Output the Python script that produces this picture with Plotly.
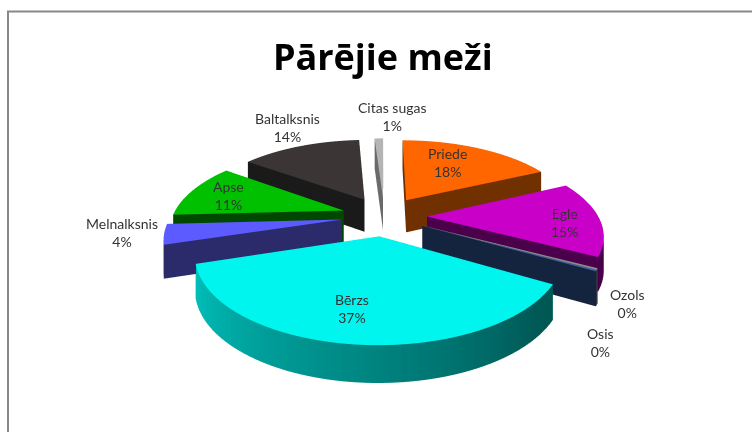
import numpy as np
import plotly.graph_objects as go

categories = ["Priede", "Egle", "Ozols", "Osis", "Bērzs", "Melnalksnis", "Apse", "Baltalksnis", "Citas sugas"]
values = [18, 15, 0.3, 0.2, 37, 4, 11, 14, 1]
pct_labels = ["18%", "15%", "0%", "0%", "37%", "4%", "11%", "14%", "1%"]
top_colors = ["#FF6600", "#C800C8", "#8C8C8C", "#3A62B0", "#00F5EE", "#5B5BFF", "#00C000", "#3B3535", "#B4B4B4"]
cut_colors = ["#703000", "#4A004A", "#555555", "#14243F", "#006058", "#2B2B6B", "#004800", "#1A1A1A", "#6A6A6A"]
label_radius = [0.72, 0.8, 1.30, 1.25, 0.45, 1.42, 0.72, 1.13, 1.25]
label_xshift = [-13, 0, -30, -45, -17, 37, -5, -6, 14]
label_yshift = [-1, -5, -19, -59, -30, 8, 0, 13, 10]

RADIUS = 1.0
DEPTH = 0.215
PULL = 0.25
WARP = 0.20
ELEVATION = np.radians(27)
EYE_DIST = 3.0
SCALE = 2.85


def warp(x, y, z):
    f = 1 + WARP * y
    return x / f, y / f, z / np.sqrt(f)


def rgb(hex_color):
    return np.array([int(hex_color[i:i + 2], 16) for i in (1, 3, 5)], dtype=float)


def to_css(c):
    return "rgb(%d,%d,%d)" % tuple(np.clip(c, 0, 255))


def wedge(start, stop, top, cut):
    mid = (start + stop) / 2
    ox, oy = PULL * np.sin(mid), PULL * np.cos(mid)
    steps = max(2, int((stop - start) / np.radians(1.5)))
    th = np.linspace(start, stop, steps + 1)
    px, py = ox + RADIUS * np.sin(th), oy + RADIUS * np.cos(th)
    x, y, z, i, j, k, fc = [], [], [], [], [], [], []

    def tri(a, b, c, color):
        n = len(x)
        for p in (a, b, c):
            wx, wy, wz = warp(*p)
            x.append(wx); y.append(wy); z.append(wz)
        i.append(n); j.append(n + 1); k.append(n + 2); fc.append(color)

    base = rgb(top)
    for s in range(steps):
        a, b = (px[s], py[s]), (px[s + 1], py[s + 1])
        tri((ox, oy, 0), (*a, 0), (*b, 0), top)
        tri((ox, oy, -DEPTH), (*a, -DEPTH), (*b, -DEPTH), cut)
        ang = np.degrees((th[s] + th[s + 1]) / 2)
        # shade of the rim: bright towards the left, dark towards lower right
        t = np.clip((ang - 130) / 130, 0, 1)
        col = to_css(base * (0.36 + 0.46 * t))
        tri((*a, 0), (*b, 0), (*b, -DEPTH), col)
        tri((*a, 0), (*b, -DEPTH), (*a, -DEPTH), col)
    for p in [(px[0], py[0]), (px[-1], py[-1])]:
        tri((ox, oy, 0), (*p, 0), (*p, -DEPTH), cut)
        tri((ox, oy, 0), (*p, -DEPTH), (ox, oy, -DEPTH), cut)
    return go.Mesh3d(x=x, y=y, z=z, i=i, j=j, k=k, facecolor=fc, flatshading=True,
                     lighting=dict(ambient=1, diffuse=0, specular=0, fresnel=0, roughness=1),
                     hoverinfo="skip", showscale=False)


shares = np.array(values, dtype=float) / sum(values) * 2 * np.pi
edges = np.concatenate([[0], np.cumsum(shares)])
fig = go.Figure()
annotations = []
for n, name in enumerate(categories):
    fig.add_trace(wedge(edges[n], edges[n + 1], top_colors[n], cut_colors[n]))
    mid = (edges[n] + edges[n + 1]) / 2
    ax, ay, az = warp((PULL + label_radius[n]) * np.sin(mid), (PULL + label_radius[n]) * np.cos(mid), 0)
    annotations.append(dict(
        x=ax, y=ay, z=az, xshift=label_xshift[n], yshift=label_yshift[n],
        text=f"{name}<br>{pct_labels[n]}", showarrow=False,
        font=dict(family="Lato", size=14, color="#333333")))

hidden = dict(visible=False, showgrid=False, zeroline=False, showticklabels=False)
fig.update_layout(
    width=752, height=432, margin=dict(l=0, r=0, t=0, b=0),
    paper_bgcolor="white", showlegend=False,
    title=dict(text="<b>Pārējie meži</b>", x=0.509, y=0.866, xanchor="center", yanchor="middle",
               font=dict(family="Open Sans", size=36, color="black")),
    scene=dict(
        domain=dict(x=[0, 1], y=[0, 1]),
        xaxis=dict(hidden, range=[-1.8, 1.8]), yaxis=dict(hidden, range=[-1.8, 1.8]),
        zaxis=dict(hidden, range=[-0.6, 0.6]),
        aspectmode="manual", aspectratio=dict(x=SCALE, y=SCALE, z=SCALE / 3),
        camera=dict(eye=dict(x=-0.038, y=-EYE_DIST * np.cos(ELEVATION), z=EYE_DIST * np.sin(ELEVATION)),
                    center=dict(x=-0.038, y=0, z=0),
                    up=dict(x=0, y=0, z=1), projection=dict(type="orthographic")),
        annotations=annotations,
    ),
    shapes=[dict(type="rect", xref="paper", yref="paper", x0=8 / 752, x1=770 / 752, y0=-0.1, y1=1 - 11.5 / 432,
                 line=dict(color="#888888", width=2), fillcolor="rgba(0,0,0,0)")],
)
fig.write_html("out.html", post_script="document.body.style.margin='0';", config=dict(displayModeBar=False))
